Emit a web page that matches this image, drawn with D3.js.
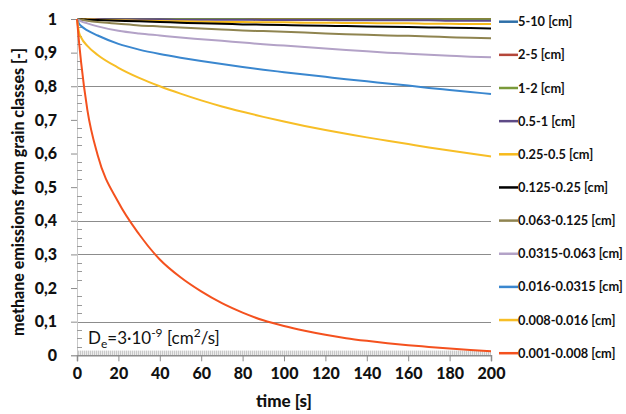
<!DOCTYPE html>
<html><head><meta charset="utf-8">
<script src="https://cdn.jsdelivr.net/npm/d3@7"></script>
<style>body{margin:0;background:#fff}svg{display:block}</style>
</head><body>
<svg id="c" width="626" height="414"></svg>
<script>
const times = [0,1,2,5,10,20,30,40,50,60,70,80,90,100,110,120,130,140,150,160,170,180,190,200];
const seriesNames = ["5-10 [cm]","2-5 [cm]","1-2 [cm]","0.5-1 [cm]","0.25-0.5 [cm]","0.125-0.25 [cm]","0.063-0.125 [cm]","0.0315-0.063 [cm]","0.016-0.0315 [cm]","0.008-0.016 [cm]","0.001-0.008 [cm]"];
const seriesColors = ["#2E6FA8","#B5473A","#7A9A3A","#5E4A86","#F7BA1A","#000000","#8F8450","#B3A2C7","#3A87CF","#F7BE26","#F4511E"];
const s5_10   = [1,1,1,1,1,1,1,1,1,1,1,1,1,1,1,1,1,1,1,1,1,1,1,1];
const s2_5    = [1,1,1,1,1,1,1,1,1,1,1,1,1,1,1,1,1,1,1,1,1,1,1,1];
const s1_2    = [1,1,1,1,1,1,1,1,1,1,1,1,0.999,0.999,0.999,0.999,0.999,0.999,0.999,0.999,0.999,0.999,0.999,0.999];
const s05_1   = [1,1,1,1,1,0.999,0.999,0.999,0.998,0.998,0.998,0.998,0.997,0.997,0.997,0.997,0.996,0.996,0.996,0.996,0.996,0.995,0.995,0.995];
const s025_05 = [1,1,1,0.999,0.998,0.996,0.995,0.994,0.993,0.992,0.991,0.991,0.99,0.99,0.989,0.989,0.988,0.988,0.987,0.987,0.986,0.986,0.985,0.985];
const s0125   = [1,1,0.999,0.998,0.997,0.995,0.993,0.991,0.989,0.987,0.986,0.984,0.983,0.982,0.981,0.98,0.979,0.978,0.977,0.976,0.975,0.974,0.973,0.972];
const s0063   = [1,0.999,0.998,0.995,0.991,0.986,0.981,0.978,0.975,0.972,0.969,0.966,0.964,0.962,0.96,0.957,0.955,0.953,0.951,0.95,0.948,0.946,0.944,0.943];
const s00315  = [1,0.996,0.993,0.987,0.978,0.965,0.957,0.951,0.945,0.94,0.935,0.93,0.925,0.921,0.917,0.912,0.908,0.904,0.9,0.897,0.894,0.891,0.888,0.886];
const s0016   = [1,0.986,0.979,0.966,0.951,0.926,0.909,0.896,0.885,0.875,0.866,0.857,0.849,0.842,0.835,0.828,0.821,0.815,0.808,0.802,0.795,0.789,0.783,0.777];
const s0008   = [1,0.96,0.945,0.92,0.893,0.855,0.825,0.8,0.778,0.758,0.74,0.724,0.709,0.695,0.682,0.67,0.659,0.648,0.638,0.628,0.618,0.609,0.6,0.591];
const s0001   = [1,0.93,0.87,0.73,0.595,0.455,0.36,0.285,0.232,0.19,0.155,0.127,0.104,0.087,0.073,0.061,0.051,0.043,0.036,0.03,0.025,0.02,0.016,0.012];
const seriesValues = [s5_10,s2_5,s1_2,s05_1,s025_05,s0125,s0063,s00315,s0016,s0008,s0001];
const xTicks = [0,20,40,60,80,100,120,140,160,180,200];
const yTicks = [0,0.1,0.2,0.3,0.4,0.5,0.6,0.7,0.8,0.9,1];
const yTickLabels = ["0","0,1","0,2","0,3","0,4","0,5","0,6","0,7","0,8","0,9","1"];
const gridValues = [0.1,0.3,0.4,0.8];

const svg = d3.select("#c");
const L=77, R=491, T=19, B=355.3;
const x = d3.scaleLinear().domain([0,200]).range([L,R]);
const y = d3.scaleLinear().domain([0,1]).range([B,T]);
const font = "Lato, 'Open Sans', sans-serif";

// hatched band near zero
const defs = svg.append("defs");
const pat = defs.append("pattern").attr("id","hatch").attr("width",2).attr("height",2).attr("patternUnits","userSpaceOnUse");
pat.append("rect").attr("width",1).attr("height",2).attr("fill","#c8c8c8");
pat.append("rect").attr("x",1).attr("width",1).attr("height",2).attr("fill","#ececec");
svg.append("rect").attr("x",x(0)+1).attr("y",y(0.014)).attr("width",x(200)-x(0)-1).attr("height",y(0)-y(0.014)).attr("fill","url(#hatch)");

// gridlines
svg.append("g").selectAll("line").data(gridValues).join("line")
  .attr("x1",L).attr("x2",R).attr("y1",d=>Math.round(y(d))+0.5).attr("y2",d=>Math.round(y(d))+0.5)
  .attr("stroke","#8c8c8c").attr("stroke-width",1);

// y axis
const ya = svg.append("g").attr("transform",`translate(${L},0)`)
  .call(d3.axisLeft(y).tickValues(yTicks).tickFormat((d,i)=>yTickLabels[i]).tickSize(6).tickPadding(14));
ya.select(".domain").attr("stroke","#c8c8c8");
ya.selectAll(".tick line").attr("stroke","#8c8c8c");
ya.selectAll("text").attr("font-family",font).attr("font-weight","900").attr("font-size","16px").attr("fill","#111");
// minor ticks inside
const minor = d3.range(0,1.0001,0.025).filter(v=>Math.abs(v*10-Math.round(v*10))>0.01);
svg.append("g").selectAll("line").data(minor).join("line")
  .attr("x1",L).attr("x2",L+5).attr("y1",d=>Math.round(y(d))+0.5).attr("y2",d=>Math.round(y(d))+0.5)
  .attr("stroke","#9a9a9a");

// x axis
const xa = svg.append("g").attr("transform",`translate(0,${B})`)
  .call(d3.axisBottom(x).tickValues(xTicks).tickSize(6).tickPadding(6));
xa.select(".domain").attr("stroke","#8c8c8c").attr("stroke-width",1.5);
xa.selectAll(".tick line").attr("stroke","#8c8c8c");
xa.selectAll("text").attr("font-family",font).attr("font-weight","900").attr("font-size","16px").attr("fill","#111");

// series
const line = d3.line().x((d,i)=>x(times[i])).y(d=>y(d)).curve(d3.curveMonotoneX);
seriesValues.forEach((vals,k)=>{
  svg.append("path").datum(vals).attr("d",line).attr("fill","none")
    .attr("stroke",seriesColors[k]).attr("stroke-width",2);
});

// legend
const lg = svg.append("g");
seriesNames.forEach((n,k)=>{
  const yy = 21.7 + k*33.15;
  lg.append("line").attr("x1",499).attr("x2",518).attr("y1",yy).attr("y2",yy).attr("stroke",seriesColors[k]).attr("stroke-width",2.5);
  lg.append("text").attr("x",518).attr("y",yy+4.5).text(n)
    .attr("font-family",font).attr("font-weight","bold").attr("font-size","12.8px").attr("fill","#111");
});

// axis titles
svg.append("text").attr("x",284).attr("y",407).attr("text-anchor","middle").text("time [s]")
  .attr("font-family",font).attr("font-weight","900").attr("font-size","17px").attr("fill","#111");
svg.append("text").attr("transform","translate(24,192) rotate(-90)").attr("text-anchor","middle")
  .text("methane emissions from grain classes [-]")
  .attr("font-family",font).attr("font-weight","900").attr("font-size","16px").attr("fill","#111");

// annotation
const ann = svg.append("text").attr("x",88).attr("y",344).attr("font-family",font).attr("font-size","17px").attr("fill","#111");
ann.append("tspan").text("D");
ann.append("tspan").attr("dy",4).attr("font-size","12px").text("e");
ann.append("tspan").attr("dy",-4).text("=3·10");
ann.append("tspan").attr("dy",-7).attr("font-size","12px").text("-9");
ann.append("tspan").attr("dy",7).text(" [cm");
ann.append("tspan").attr("dy",-7).attr("font-size","12px").text("2");
ann.append("tspan").attr("dy",7).text("/s]");
</script>
</body></html>
